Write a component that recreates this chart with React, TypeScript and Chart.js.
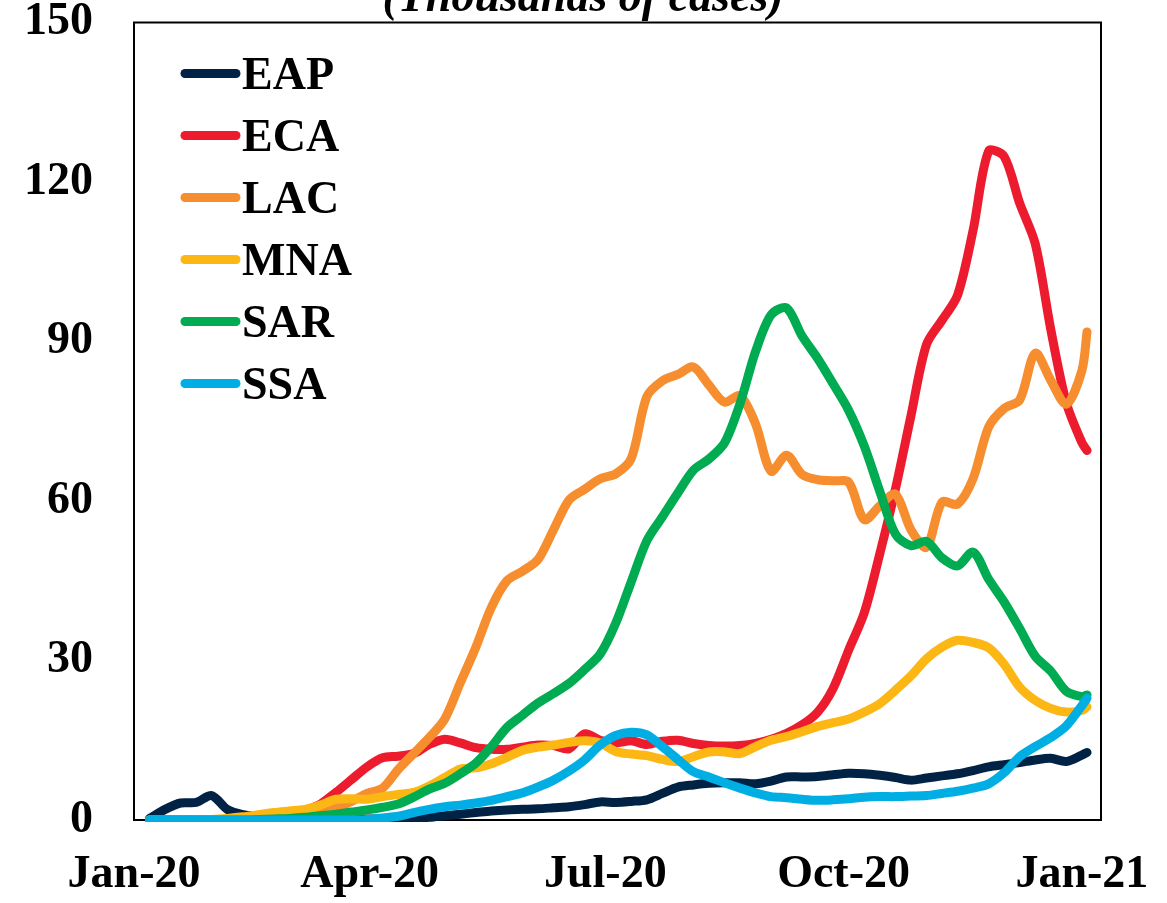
import React, { useEffect, useRef } from 'react';
import { Chart, registerables } from 'chart.js';

Chart.register(...registerables);

// Day index counted from 1 Jan 2020
const DAYS = [
  6, 12, 18, 24, 30, 36, 42, 48, 54, 60,
  66, 72, 78, 84, 90, 96, 102, 108, 114, 120,
  126, 132, 138, 144, 150, 156, 162, 168, 174, 180,
  186, 192, 198, 204, 210, 216, 222, 228, 234, 240,
  246, 252, 258, 264, 270, 276, 282, 288, 294, 300,
  306, 312, 318, 324, 330, 336, 342, 348, 354, 360,
  366, 368,
];

const TICK_DAYS = [0, 91, 182, 274, 366];
const TICK_LABELS = ['Jan-20', 'Apr-20', 'Jul-20', 'Oct-20', 'Jan-21'];
const Y_TICKS = [0, 30, 60, 90, 120, 150];
const TITLE = '(Thousands of cases)';

const SERIES_NAMES = ['EAP', 'ECA', 'LAC', 'MNA', 'SAR', 'SSA'];
const COLORS = ['#002345', '#EC1C2E', '#F68D2E', '#FDB714', '#00AB51', '#00AEE4'];

const EAP = [
  0.3, 2.0, 3.2, 3.3, 4.6, 2.0, 1.0, 0.7, 0.5, 0.4,
  0.3, 0.2, 0.2, 0.2, 0.2, 0.2, 0.2, 0.3, 0.5, 0.8,
  1.1, 1.4, 1.7, 1.9, 2.0, 2.1, 2.3, 2.5, 2.9, 3.4,
  3.3, 3.5, 3.8, 5.0, 6.2, 6.6, 6.9, 7.0, 7.0, 6.8,
  7.3, 8.1, 8.1, 8.2, 8.5, 8.8, 8.7, 8.4, 8.0, 7.5,
  7.9, 8.3, 8.7, 9.3, 10.0, 10.4, 10.8, 11.3, 11.6, 11.0,
  12.2, 12.7,
];

const ECA = [
  0, 0, 0, 0, 0, 0, 0, 0, 0.2, 0.8,
  1.8, 3.0, 5.2, 7.6, 10.0, 11.7, 12.0, 12.5, 14.2, 15.2,
  14.5, 13.6, 13.3, 13.3, 13.7, 14.1, 14.0, 13.4, 16.2, 15.0,
  14.5, 14.9, 14.2, 14.8, 15.0, 14.4, 14.0, 13.9, 14.0, 14.4,
  15.2, 16.3, 17.9, 20.3, 24.8, 32.0, 39.0, 50.1, 62.2, 76.0,
  89.4, 94.0, 98.7, 110.9, 125.8, 124.8, 116.0, 108.4, 92.3, 78.5,
  71.0, 69.5,
];

const LAC = [
  0, 0, 0, 0, 0, 0, 0, 0.1, 0.2, 0.4,
  0.8, 1.4, 2.2, 3.5, 5.0, 6.0, 9.5, 12.5, 15.5, 19.0,
  25.8, 32.5, 40.0, 45.0, 46.8, 49.0, 54.6, 60.2, 62.2, 64.2,
  65.1, 68.0, 79.6, 82.6, 83.8, 85.2, 81.8, 78.6, 79.8, 74.5,
  65.6, 68.6, 65.0, 64.0, 63.8, 63.5, 56.5, 59.1, 61.3, 54.6,
  51.3, 59.8, 59.4, 64.2, 73.9, 77.4, 79.0, 87.8, 82.7, 78.2,
  84.5, 91.8,
];

const MNA = [
  0, 0, 0, 0, 0.1, 0.3, 0.6, 1.0, 1.4, 1.7,
  2.0, 2.8, 3.9, 4.0, 3.9, 4.4, 4.8, 5.2, 6.4, 8.0,
  9.6, 9.8, 10.6, 11.8, 13.1, 13.7, 14.1, 14.6, 14.9, 14.5,
  12.9, 12.4, 12.1, 11.4, 11.0, 11.9, 12.8, 12.8, 12.5, 13.8,
  15.0, 15.7, 16.6, 17.6, 18.3, 19.0, 20.3, 21.9, 24.4, 27.1,
  30.3, 32.5, 33.8, 33.4, 32.4, 29.3, 25.0, 22.5, 21.0, 20.3,
  20.6, 21.3,
];

const SAR = [
  0, 0, 0, 0, 0, 0, 0, 0.1, 0.2, 0.3,
  0.5, 0.8, 1.1, 1.5, 1.9, 2.4, 3.0, 4.3, 5.8, 6.9,
  8.7, 10.7, 13.8, 17.4, 19.7, 22.0, 23.8, 25.7, 28.3, 31.2,
  37.0, 44.8, 52.5, 57.0, 61.5, 65.8, 67.9, 70.9, 78.3, 88.1,
  95.0, 96.3, 91.0, 86.8, 82.0, 77.0, 70.3, 61.8, 53.8, 51.6,
  52.4, 49.3, 47.8, 50.4, 45.3, 41.0, 36.0, 30.8, 28.0, 24.2,
  23.2, 23.5,
];

const SSA = [
  0, 0, 0, 0, 0, 0, 0, 0, 0, 0,
  0, 0, 0, 0, 0.1, 0.4, 0.7, 1.4, 2.0, 2.5,
  2.8, 3.2, 3.7, 4.4, 5.1, 6.2, 7.5, 9.2, 11.3, 14.1,
  15.9, 16.5, 16.0, 13.8, 11.4, 9.1, 8.1, 7.0, 6.0, 5.1,
  4.4, 4.2, 3.9, 3.7, 3.8, 4.0, 4.3, 4.4, 4.4, 4.5,
  4.6, 5.0, 5.4, 6.0, 6.8, 8.9, 11.9, 13.8, 15.5, 17.7,
  21.5, 22.9,
];

const SERIES = [EAP, ECA, LAC, MNA, SAR, SSA];

const FONT_FAMILY = "'Liberation Serif', 'Times New Roman', serif";

const framePlugin = {
  id: 'frame',
  beforeDatasetsDraw(chart: any) {
    const { ctx, chartArea } = chart;
    ctx.save();
    ctx.strokeStyle = '#000';
    ctx.lineWidth = 2;
    ctx.strokeRect(chartArea.left, chartArea.top, chartArea.right - chartArea.left, chartArea.bottom - chartArea.top);
    ctx.restore();
  },
};

const legendPlugin = {
  id: 'insideLegend',
  afterDraw(chart: any) {
    const { ctx } = chart;
    ctx.save();
    chart.data.datasets.forEach((ds: any, i: number) => {
      const y = 73.5 + i * 62;
      ctx.strokeStyle = ds.borderColor;
      ctx.lineWidth = 9;
      ctx.lineCap = 'round';
      ctx.beginPath();
      ctx.moveTo(185, y);
      ctx.lineTo(236, y);
      ctx.stroke();
      ctx.fillStyle = '#000';
      ctx.font = `bold 46px ${FONT_FAMILY}`;
      ctx.textAlign = 'left';
      ctx.textBaseline = 'alphabetic';
      ctx.fillText(ds.label, 242, y + 15.5);
    });
    ctx.restore();
  },
};

const titlePlugin = {
  id: 'cutTitle',
  afterDraw(chart: any) {
    const { ctx } = chart;
    ctx.save();
    ctx.fillStyle = '#000';
    ctx.font = `italic bold 46px ${FONT_FAMILY}`;
    ctx.textAlign = 'center';
    ctx.textBaseline = 'alphabetic';
    ctx.fillText(TITLE, 583, 11);
    ctx.restore();
  },
};

export default function App() {
  const canvasRef = useRef<HTMLCanvasElement | null>(null);

  useEffect(() => {
    document.body.style.margin = '0';
    const canvas = canvasRef.current;
    if (!canvas) return;

    const datasets = SERIES_NAMES.map((name, i) => ({
      label: name,
      data: DAYS.map((d, j) => ({ x: d, y: SERIES[i][j] })),
      borderColor: COLORS[i],
      backgroundColor: COLORS[i],
      borderWidth: 9,
      pointRadius: 0,
      pointHoverRadius: 0,
      tension: 0.3,
      borderCapStyle: 'round',
      borderJoinStyle: 'round',
      fill: false,
      order: SERIES_NAMES.length - 1 - i,
      clip: { left: 12, top: 12, right: 12, bottom: 2 },
    }));

    const tickFont = { family: FONT_FAMILY, size: 46, weight: 'bold' as const };

    const chart = new Chart(canvas, {
      type: 'line',
      data: { datasets: datasets as any },
      options: {
        responsive: false,
        animation: false,
        events: [],
        layout: { padding: { top: 22.5, right: 66, bottom: 0, left: 0 } },
        plugins: {
          legend: { display: false },
          tooltip: { enabled: false },
          title: { display: false },
        },
        scales: {
          x: {
            type: 'linear',
            min: 0,
            max: 373.4,
            bounds: 'data',
            grid: { display: false, drawTicks: false },
            border: { display: false },
            afterBuildTicks: (scale: any) => {
              scale.ticks = TICK_DAYS.map((v) => ({ value: v }));
            },
            afterFit: (scale: any) => {
              scale.height = 83;
              scale.paddingLeft = 0;
              scale.paddingRight = 0;
              scale.paddingTop = 0;
              scale.paddingBottom = 0;
            },
            ticks: {
              autoSkip: false,
              maxRotation: 0,
              minRotation: 0,
              padding: 28,
              color: '#000',
              font: tickFont,
              callback: (value: any) => {
                const idx = TICK_DAYS.indexOf(Number(value));
                return idx >= 0 ? TICK_LABELS[idx] : '';
              },
            },
          },
          y: {
            type: 'linear',
            min: 0,
            max: 150,
            grid: { display: false, drawTicks: false },
            border: { display: false },
            afterBuildTicks: (scale: any) => {
              scale.ticks = Y_TICKS.map((v) => ({ value: v }));
            },
            afterFit: (scale: any) => {
              scale.width = 134;
              scale.paddingLeft = 0;
              scale.paddingRight = 0;
              scale.paddingTop = 0;
              scale.paddingBottom = 0;
            },
            ticks: {
              padding: 41,
              color: '#000',
              font: tickFont,
            },
          },
        },
      },
      plugins: [framePlugin, legendPlugin, titlePlugin],
    });

    return () => {
      chart.destroy();
    };
  }, []);

  return (
    <div style={{ width: 1167, height: 903, background: '#fff' }}>
      <canvas ref={canvasRef} width={1167} height={903} style={{ display: 'block' }} />
    </div>
  );
}
